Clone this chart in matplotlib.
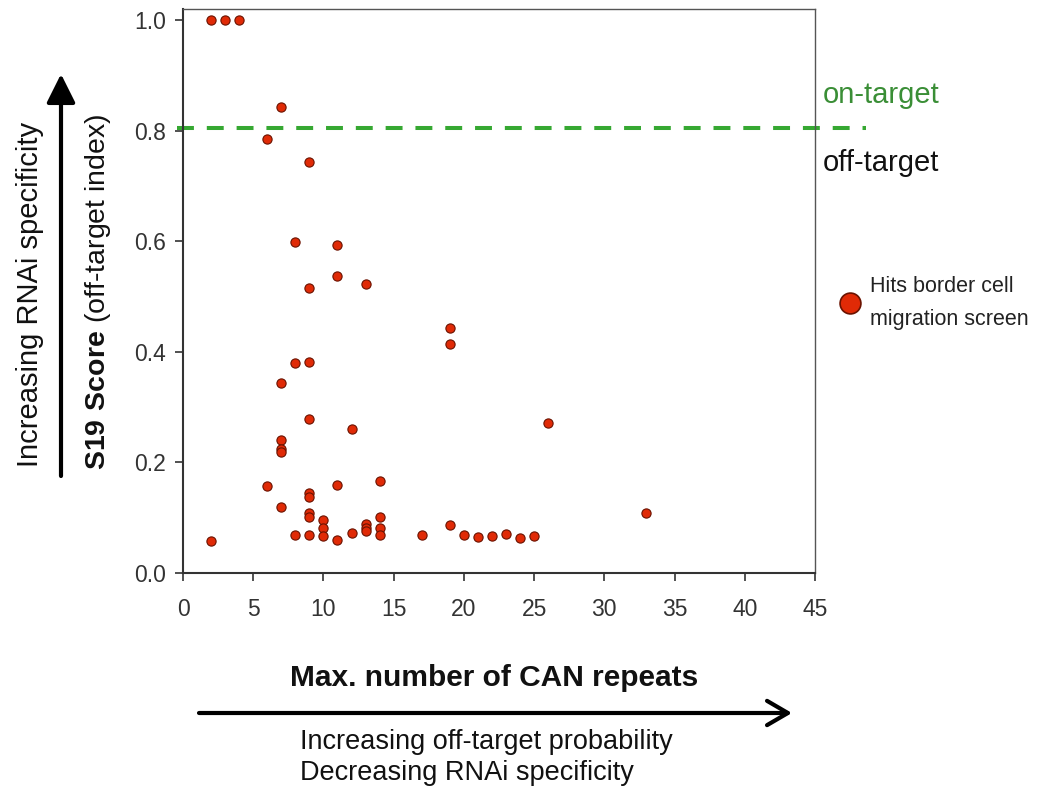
import matplotlib
matplotlib.use("Agg")
import matplotlib.pyplot as plt
from matplotlib.lines import Line2D
import numpy as np

plt.rcParams['font.family'] = ['Liberation Sans', 'DejaVu Sans']
plt.rcParams['mathtext.fontset'] = 'custom'
plt.rcParams['mathtext.rm'] = 'Liberation Sans'
plt.rcParams['mathtext.bf'] = 'Liberation Sans:bold'

# max. number of CAN repeats vs S19 score
can_repeats = [2, 3, 4, 7, 6, 9,
               8, 11, 11, 9, 13,
               19, 19, 8, 9, 7,
               9, 12, 26, 7, 7, 7,
               6, 11, 14, 9, 9, 7,
               9, 9, 10, 10, 10,
               14, 13, 13, 13, 14, 14,
               8, 9, 11, 12, 2,
               17, 19, 20, 21, 22, 23, 24, 25, 33]
s19_score = [1.0, 1.0, 1.0, 0.843, 0.785, 0.744,
             0.599, 0.594, 0.537, 0.515, 0.522,
             0.443, 0.415, 0.380, 0.381, 0.343,
             0.279, 0.261, 0.271, 0.240, 0.225, 0.218,
             0.157, 0.160, 0.167, 0.144, 0.137, 0.119,
             0.108, 0.102, 0.096, 0.081, 0.067,
             0.102, 0.088, 0.081, 0.076, 0.081, 0.068,
             0.068, 0.068, 0.059, 0.073, 0.058,
             0.068, 0.087, 0.069, 0.066, 0.067, 0.070, 0.063, 0.067, 0.108]
threshold = 0.805
x_ticks = [0, 5, 10, 15, 20, 25, 30, 35, 40, 45]
y_ticks = [0.0, 0.2, 0.4, 0.6, 0.8, 1.0]

W, H = 1044, 791
fig = plt.figure(figsize=(W / 100, H / 100), dpi=100)
ax = fig.add_axes([183 / W, 1 - 573 / H, (815 - 183) / W, (573 - 9) / H])

face = '#e02a06'
edge = '#6a1200'
ax.scatter(can_repeats, s19_score, s=44, c=face, edgecolors=edge, linewidths=0.8, zorder=3)

# on/off-target threshold, runs a bit past the frame
ax.plot([-0.45, 48.6], [threshold, threshold], color='#36a832', lw=2.9,
        dashes=(4.2, 3.2), clip_on=False, zorder=2)

ax.set_xlim(0, 45)
ax.set_ylim(0, 1.02)
ax.set_xticks(x_ticks)
ax.set_yticks(y_ticks)
ax.set_yticklabels(['%.1f' % v for v in y_ticks])
ax.tick_params(labelsize=16.5, colors='#333333', length=6, width=1.2)
ax.tick_params(axis='x', pad=12)
ax.tick_params(axis='y', pad=6)
for sp in ax.spines.values():
    sp.set_color('#555555')
    sp.set_linewidth(1.0)
ax.spines['left'].set_color('#333333')
ax.spines['bottom'].set_color('#333333')
ax.spines['left'].set_linewidth(1.5)
ax.spines['bottom'].set_linewidth(1.5)

fig.text(823 / W, 1 - 95 / H, 'on-target', color='#3a8e36', fontsize=21, va='center', ha='left')
fig.text(823 / W, 1 - 163 / H, 'off-target', color='#111111', fontsize=21, va='center', ha='left')

# legend
h = Line2D([], [], marker='o', ls='none', ms=15, mfc=face, mec=edge, mew=1.2)
leg = ax.legend([h], ['Hits border cell\nmigration screen'], loc='center left',
                bbox_to_anchor=(828 / W, 1 - 303 / H), bbox_transform=fig.transFigure,
                frameon=False, borderpad=0, handlelength=1.0, handletextpad=0.45,
                prop={'size': 15.5})
for t in leg.get_texts():
    t.set_linespacing(1.8)
    t.set_color('#222222')

# axis titles
fig.text(98 / W, 1 - 292 / H, r'$\mathbf{S19\ Score}$ (off-target index)',
         rotation=90, ha='center', va='center', fontsize=20.5, color='#111111')
fig.text(30 / W, 1 - 294 / H, 'Increasing RNAi specificity',
         rotation=90, ha='center', va='center', fontsize=21, color='#111111')
fig.text(494 / W, 1 - 678 / H, 'Max. number of CAN repeats',
         ha='center', va='center', fontsize=21.5, fontweight='bold', color='#111111')
fig.text(300 / W, 1 - 742 / H, 'Increasing off-target probability',
         ha='left', va='center', fontsize=19.5, color='#111111')
fig.text(300 / W, 1 - 773 / H, 'Decreasing RNAi specificity',
         ha='left', va='center', fontsize=19.5, color='#111111')

# arrows
ax.annotate('', xy=(61 / W, 1 - 74 / H), xytext=(61 / W, 1 - 476 / H),
            xycoords='figure fraction', textcoords='figure fraction',
            arrowprops=dict(arrowstyle='-|>,head_length=0.7,head_width=0.35',
                            lw=3, color='black', mutation_scale=25, shrinkA=0, shrinkB=0))
ax.annotate('', xy=(792 / W, 1 - 713 / H), xytext=(199 / W, 1 - 713 / H),
            xycoords='figure fraction', textcoords='figure fraction',
            arrowprops=dict(arrowstyle='->,head_length=0.6,head_width=0.35',
                            lw=3, color='black', mutation_scale=25, shrinkA=0, shrinkB=0))

fig.savefig('out.png', dpi=100)
